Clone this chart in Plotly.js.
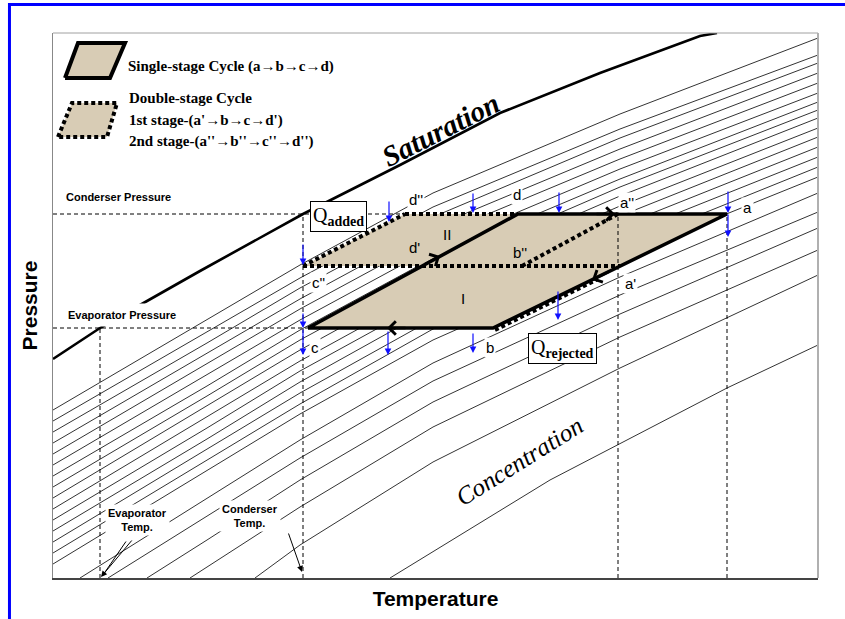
<!DOCTYPE html>
<html>
<head>
<meta charset="utf-8">
<script src="https://cdn.plot.ly/plotly-3.0.1.min.js"></script>
<style>
  html, body { margin: 0; padding: 0; background: #fff; }
  #chart { width: 845px; height: 619px; }
</style>
</head>
<body>
<div id="chart"></div>
<script>
// Dühring-type pressure / temperature chart of an absorption cycle.
// Units are arbitrary (schematic diagram).

// Saturation line of the pure refrigerant
const satT = [0, 47, 87, 147, 250, 347, 447, 547, 647, 664];
const satP = [219, 250, 273, 307, 364, 413, 465, 505, 542, 545];

// Constant-concentration lines (upper-left = weakest solution)
const isoT = [
  [0, 154, 247, 380, 567, 765],
  [0, 154, 247, 380, 567, 765],
  [0, 154, 247, 380, 567, 765],
  [0, 154, 247, 380, 567, 765],
  [0, 154, 247, 380, 567, 765],
  [0, 154, 247, 380, 567, 765],
  [0, 154, 247, 380, 567, 765],
  [0, 154, 247, 380, 567, 765],
  [0, 154, 247, 380, 567, 765],
  [0, 154, 247, 380, 567, 765],
  [0, 154, 247, 380, 567, 765],
  [0, 154, 247, 380, 567, 765],
  [0, 154, 247, 380, 567, 765],
  [0, 154, 247, 380, 567, 765],
  [0, 154, 247, 380, 567, 765],
  [27, 154, 247, 380, 567, 765],
  [55, 154, 247, 380, 567, 765],
  [94, 154, 247, 380, 567, 765],
  [137, 154, 247, 380, 567, 765],
  [202, 247, 380, 567, 765],
  [337, 497, 674, 765]
];
const isoP = [
  [168, 258, 313, 385, 464, 540],
  [157, 246, 300, 371, 449, 523],
  [146, 235, 290, 361, 440, 515],
  [135, 225, 279, 351, 429, 505],
  [124, 214, 269, 341, 419, 495],
  [113, 203, 258, 330, 409, 485],
  [102, 192, 248, 320, 399, 476],
  [91, 182, 238, 310, 391, 468],
  [80, 172, 228, 301, 382, 460],
  [69, 161, 217, 290, 372, 450],
  [58, 150, 207, 280, 362, 441],
  [47, 139, 196, 270, 352, 431],
  [36, 129, 185, 259, 342, 421],
  [25, 118, 174, 249, 331, 411],
  [14, 107, 164, 238, 321, 401],
  [0, 80, 138, 215, 301, 385],
  [0, 62, 120, 197, 283, 366],
  [0, 38, 98, 176, 264, 350],
  [0, 11, 71, 151, 241, 328],
  [0, 33, 116, 210, 303],
  [0, 98, 190, 233]
];

// Cycle state points
const ptName = ["a", "b", "c", "d", "a'", "a''", "b''", "c''", "d'", "d''"];
const ptT = [674, 440, 255, 465, 567, 565, 469, 250, 369, 352];
const ptP = [364, 250, 250, 364, 312, 364, 312, 312, 312, 364];

// Operating levels
const condP = 364, evapP = 250;
const evapT = 47, condT = 250;

// Heat-flow arrows (blue): temperature, start pressure, end pressure
const qT = [336, 420, 506, 250, 250, 250, 335, 420, 505, 675, 675];
const qFromP = [378, 386, 387, 335, 266, 250, 248, 246, 288, 388, 365];
const qToP = [356, 365, 365, 313, 250, 223, 223, 225, 258, 365, 341];

// Process direction arrows on the single-stage cycle: tip and tail
const dirTipT = [562, 387, 539, 334];
const dirTipP = [364, 322, 298, 250];
const dirTailT = [542, 370, 557, 354];
const dirTailP = [364, 312.8, 306.8, 250];

// Legend glyph outlines
const legSolidT = [12, 25, 72, 57, 12];
const legSolidP = [500, 535, 535, 500, 500];
const legDotT = [5, 19, 64, 54, 5];
const legDotP = [441, 475, 475, 441, 441];

const P = name => ptP[ptName.indexOf(name)];
const T = name => ptT[ptName.indexOf(name)];
const path = names => ({ x: names.map(T), y: names.map(P) });

const tan = '#d8ccb5';
const dotted = '4px,3px';
const dashed = '4px,3px';
const traces = [];

isoT.forEach((t, i) => traces.push({
  x: t, y: isoP[i], mode: 'lines', hoverinfo: 'skip',
  line: { color: '#333', width: 1 }
}));

traces.push({ x: satT, y: satP, mode: 'lines', hoverinfo: 'skip',
  line: { color: '#000', width: 2.6 } });

// shaded area of both cycles
const area = path(["c''", "d''", "a", "b", "c", "d'", "c''"]);
traces.push({ x: area.x, y: area.y, mode: 'lines', fill: 'toself',
  fillcolor: tan, line: { width: 0 }, hoverinfo: 'skip' });

// reference pressure / temperature levels
const refLines = [
  { x: [0, T("d''")], y: [condP, condP] },
  { x: [0, T('c')], y: [evapP, evapP] },
  { x: [evapT, evapT], y: [0, evapP] },
  { x: [condT, condT], y: [0, condP] },
  { x: [T("a''"), T("a''")], y: [0, condP] },
  { x: [T('a'), T('a')], y: [0, condP] }
];
refLines.forEach(r => traces.push({ x: r.x, y: r.y, mode: 'lines', hoverinfo: 'skip',
  line: { color: '#000', width: 1, dash: dashed } }));

// double-stage cycle (dotted)
[["c''", "d''"], ["d''", "d"], ["c''", "a'"], ["b''", "a''"]].forEach(seg => {
  const s = path(seg);
  traces.push({ x: s.x, y: s.y, mode: 'lines', hoverinfo: 'skip',
    line: { color: '#000', width: 4, dash: dotted } });
});
// first-stage absorber segment runs along a-b
traces.push({ x: [T('b') + 2, 545], y: [P('b') - 2, 299], mode: 'lines', hoverinfo: 'skip',
  line: { color: '#000', width: 4, dash: dotted } });

// single-stage cycle (solid)
const single = path(['c', 'd', 'a', 'b', 'c']);
traces.push({ x: single.x, y: single.y, mode: 'lines', hoverinfo: 'skip',
  line: { color: '#000', width: 3.5 } });

// legend glyphs
traces.push({ x: legSolidT, y: legSolidP, mode: 'lines', fill: 'toself', fillcolor: tan,
  hoverinfo: 'skip', line: { color: '#000', width: 4 } });
traces.push({ x: legDotT, y: legDotP, mode: 'lines', fill: 'toself', fillcolor: tan,
  hoverinfo: 'skip', line: { color: '#000', width: 4, dash: dotted } });

const sans = 'Liberation Sans, Arial, sans-serif';
const serif = 'Liberation Serif, Times New Roman, serif';
const ann = [];

// point labels
const labels = [
  { t: 'a', x: 694, y: 371, bg: true },
  { t: "a''", x: 574, y: 376, bg: true },
  { t: "a'", x: 577, y: 295, bg: true },
  { t: 'b', x: 437, y: 231, bg: true },
  { t: "b''", x: 467, y: 326, bg: false },
  { t: 'c', x: 262, y: 231, bg: true },
  { t: "c''", x: 265, y: 296, bg: true },
  { t: 'd', x: 464, y: 384, bg: true },
  { t: "d''", x: 363, y: 379, bg: true },
  { t: "d'", x: 361, y: 331, bg: false },
  { t: 'II', x: 394, y: 344, bg: false },
  { t: 'I', x: 410, y: 280, bg: false }
];
labels.forEach(l => ann.push({
  x: l.x, y: l.y, xref: 'x', yref: 'y', text: l.t, showarrow: false,
  font: { family: sans, size: 15, color: '#000' },
  bgcolor: l.bg ? '#fff' : 'rgba(0,0,0,0)', borderpad: 1
}));

// heat boxes
ann.push({ x: 285, y: 362, xref: 'x', yref: 'y', showarrow: false,
  text: 'Q<sub><b>added</b></sub>', font: { family: serif, size: 20, color: '#000' },
  bgcolor: '#fff', bordercolor: '#000', borderwidth: 1, borderpad: 2 });
ann.push({ x: 509, y: 230, xref: 'x', yref: 'y', showarrow: false,
  text: 'Q<sub><b>rejected</b></sub>', font: { family: serif, size: 20, color: '#000' },
  bgcolor: '#fff', bordercolor: '#000', borderwidth: 1, borderpad: 2 });

// level labels
const small = { family: sans, size: 11, color: '#000' };
ann.push({ x: 9, y: 381, xref: 'x', yref: 'y', xanchor: 'left', showarrow: false,
  text: '<b>Conderser Pressure</b>', font: small, bgcolor: '#fff', borderpad: 3 });
ann.push({ x: 9, y: 263, xref: 'x', yref: 'y', xanchor: 'left', showarrow: false,
  text: '<b>Evaporator Pressure</b>', font: small, bgcolor: '#fff', borderpad: 5 });
ann.push({ x: 84, y: 58, xref: 'x', yref: 'y', showarrow: false,
  text: '<b>Evaporator<br>Temp.</b>', font: small, bgcolor: '#fff', borderpad: 2 });
ann.push({ x: 197, y: 62, xref: 'x', yref: 'y', showarrow: false,
  text: '<b>Conderser<br>Temp.</b>', font: small, bgcolor: '#fff', borderpad: 2 });

// pointers to the temperature levels
ann.push({ x: evapT + 1, y: 1, ax: 80, ay: 39, xref: 'x', yref: 'y', axref: 'x', ayref: 'y',
  text: '', showarrow: true, arrowhead: 2, arrowsize: 1.2, arrowwidth: 1, arrowcolor: '#000' });
ann.push({ x: evapT + 3, y: 3, ax: 74, ay: 38, xref: 'x', yref: 'y', axref: 'x', ayref: 'y',
  text: '', showarrow: true, arrowhead: 0, arrowwidth: 1, arrowcolor: '#000' });
ann.push({ x: condT - 1, y: 6, ax: 235, ay: 46, xref: 'x', yref: 'y', axref: 'x', ayref: 'y',
  text: '', showarrow: true, arrowhead: 2, arrowsize: 1.2, arrowwidth: 1, arrowcolor: '#000' });

// heat flow arrows
qT.forEach((t, i) => ann.push({
  x: t, y: qToP[i], ax: t, ay: qFromP[i], xref: 'x', yref: 'y', axref: 'x', ayref: 'y',
  text: '', showarrow: true, arrowhead: 2, arrowsize: 1.1, arrowwidth: 1.2, arrowcolor: '#1010ff'
}));

// process direction chevrons
dirTipT.forEach((t, i) => ann.push({
  x: t, y: dirTipP[i], ax: dirTailT[i], ay: dirTailP[i],
  xref: 'x', yref: 'y', axref: 'x', ayref: 'y',
  text: '', showarrow: true, arrowhead: 4, arrowsize: 1, arrowwidth: 2.6, arrowcolor: '#000'
}));

// legend text
const legFont = { family: serif, size: 15, color: '#000' };
[
  ['<b>Single-stage Cycle (a→b→c→d)</b>', 73, 512],
  ['<b>Double-stage Cycle</b>', 74, 480],
  ["<b>1st stage-(a'→b→c→d')</b>", 74, 458],
  ["<b>2nd stage-(a''→b''→c''→d'')</b>", 74, 437]
].forEach(([txt, x, y]) => ann.push({ x: x, y: y, xref: 'x', yref: 'y', xanchor: 'left',
  showarrow: false, text: txt, font: legFont }));

// region names
ann.push({ x: 387, y: 448, xref: 'x', yref: 'y', showarrow: false, textangle: -27,
  text: '<b><i>Saturation</i></b>', font: { family: serif, size: 29, color: '#000' } });
ann.push({ x: 466, y: 117, xref: 'x', yref: 'y', showarrow: false, textangle: -32,
  text: '<i>Concentration</i>', font: { family: serif, size: 25, color: '#000' } });

// page frame (blue) and plot border
const shapes = [
  { type: 'line', xref: 'paper', yref: 'paper', x0: -0.0588, x1: 1.0353, y0: 1.0523, y1: 1.0523,
    line: { color: '#0000ff', width: 3 } },
  { type: 'line', xref: 'paper', yref: 'paper', x0: -0.0569, x1: -0.0569, y0: 1.055, y1: -0.0752,
    line: { color: '#0000ff', width: 3 } },
  { type: 'line', xref: 'paper', yref: 'paper', x0: 0, x1: 1, y0: 1, y1: 1,
    line: { color: '#a0a0a0', width: 1 } },
  { type: 'line', xref: 'paper', yref: 'paper', x0: 1, x1: 1, y0: 0, y1: 1,
    line: { color: '#b0b0b0', width: 2 } }
];

const layout = {
  width: 845, height: 619,
  margin: { l: 53, r: 27, t: 33, b: 41 },
  paper_bgcolor: '#fff', plot_bgcolor: '#fff',
  showlegend: false,
  xaxis: {
    range: [0, 765], showgrid: false, zeroline: false, showticklabels: false, ticks: '',
    showline: true, linecolor: '#444', linewidth: 2,
    title: { text: '<b>Temperature</b>', font: { family: sans, size: 21, color: '#000' }, standoff: 12 }
  },
  yaxis: {
    range: [0, 545], showgrid: false, zeroline: false, showticklabels: false, ticks: '',
    showline: true, linecolor: '#888', linewidth: 1.2,
    title: { text: '<b>Pressure</b>', font: { family: sans, size: 21, color: '#000' }, standoff: 8 }
  },
  shapes: shapes,
  annotations: ann
};

Plotly.newPlot('chart', traces, layout, { displayModeBar: false, staticPlot: true });
</script>
</body>
</html>
